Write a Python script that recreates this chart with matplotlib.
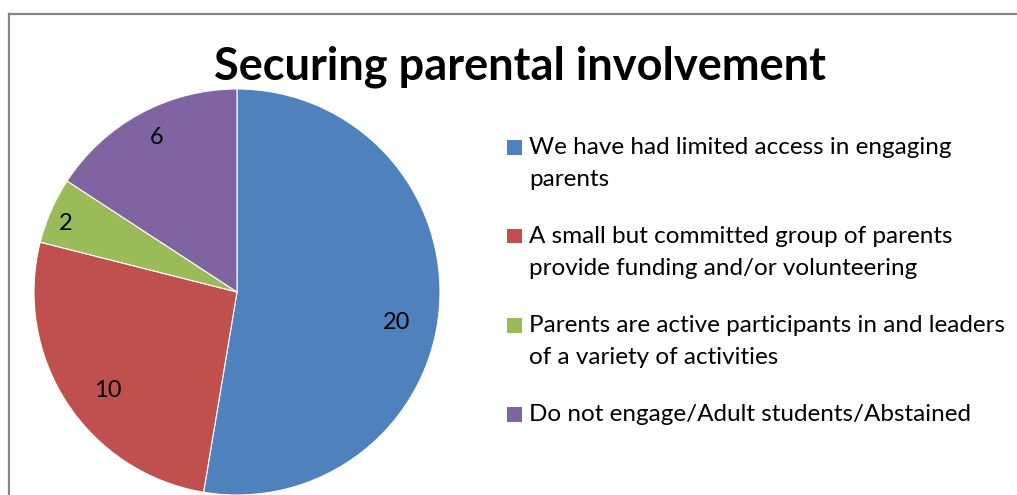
import matplotlib
matplotlib.use("Agg")
import matplotlib.pyplot as plt
from matplotlib.lines import Line2D
from matplotlib.patches import Rectangle
import numpy as np

# Survey responses
title = "Securing parental involvement"
categories = [
    "We have had limited access in engaging\nparents",
    "A small but committed group of parents\nprovide funding and/or volunteering",
    "Parents are active participants in and leaders\nof a variety of activities",
    "Do not engage/Adult students/Abstained",
]
values = [20, 10, 2, 6]
colors = ["#4F81BD", "#C0504D", "#9BBB59", "#8064A2"]

plt.rcParams["font.family"] = ["Lato", "DejaVu Sans"]

W, H = 1017, 495
fig = plt.figure(figsize=(W / 100, H / 100), dpi=100)
fig.patch.set_facecolor("white")


def fx(px):
    return px / W


def fy(py):
    return 1 - py / H


# Chart-area frame (top and left edges visible)
frame_kw = dict(color="#878787", lw=1.6, transform=fig.transFigure)
fig.add_artist(Line2D([fx(8.5), 1.0], [fy(13.5), fy(13.5)], **frame_kw))
fig.add_artist(Line2D([fx(8.5), fx(8.5)], [fy(13.5), 0.0], **frame_kw))

# Pie plot area: centre (237, 292), radius 203 px
cx, cy, r = 237, 292, 203
ax = fig.add_axes([fx(cx - r), fy(cy + r), 2 * r / W, 2 * r / H])
wedges, _ = ax.pie(
    values,
    colors=colors,
    startangle=90,
    counterclock=False,
    radius=1.0,
    wedgeprops=dict(edgecolor="white", linewidth=0.8),
)
ax.set_xlim(-1, 1)
ax.set_ylim(-1, 1)
ax.set_aspect("equal")
ax.axis("off")

# Data labels placed along each wedge's bisector
label_radius = [0.80, 0.80, 0.91, 0.86]
label_shift = [-6, 4, 2, -1]  # degrees
for w, v, lr, sh in zip(wedges, values, label_radius, label_shift):
    mid = np.deg2rad((w.theta1 + w.theta2) / 2 + sh)
    ax.text(lr * np.cos(mid), lr * np.sin(mid), str(v),
            ha="center", va="center", fontsize=17, color="black")

# Title
fig.text(fx(520), fy(80), title, ha="center", va="baseline",
         fontsize=32.5, fontweight="bold", color="black")

# Legend
line_pitch = 32
item_gap = 25
base = 154
for cat, col in zip(categories, colors):
    lines = cat.split("\n")
    fig.add_artist(Rectangle((fx(507), fy(base + 0.5)), 15 / W, 15 / H,
                             facecolor=col, edgecolor="none",
                             transform=fig.transFigure))
    for k, ln in enumerate(lines):
        fig.text(fx(529), fy(base + k * line_pitch), ln, ha="left",
                 va="baseline", fontsize=17.5, color="black")
    base += (len(lines) - 1) * line_pitch + line_pitch + item_gap

fig.savefig("out.png", dpi=100, facecolor="white")
